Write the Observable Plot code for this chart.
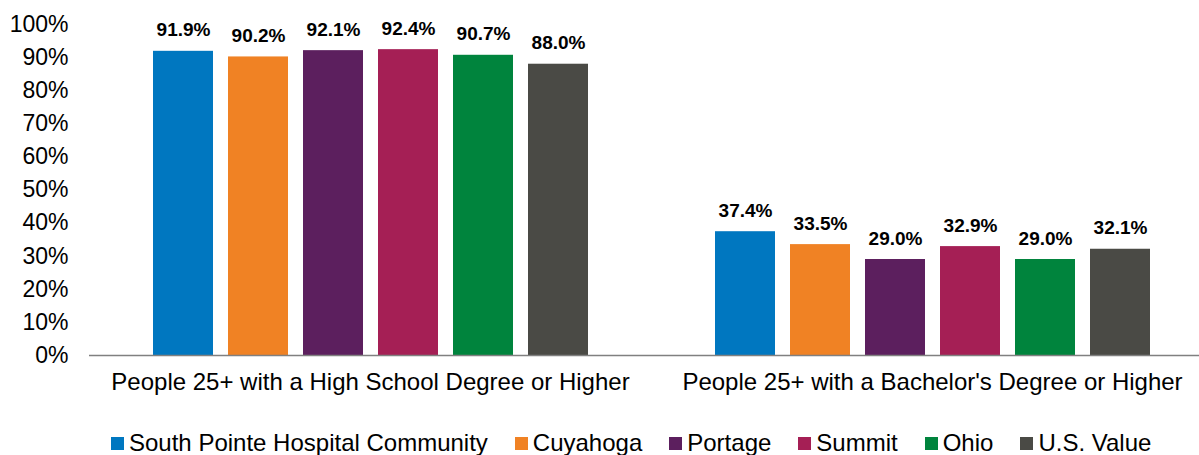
<!DOCTYPE html>
<html>
<head>
<meta charset="utf-8">
<script src="https://cdn.jsdelivr.net/npm/d3@7"></script>
<script src="https://cdn.jsdelivr.net/npm/@observablehq/plot@0.6"></script>
<style>
  html, body { margin: 0; padding: 0; background: #fff; }
  body { width: 1199px; height: 455px; overflow: hidden; font-family: "Liberation Sans", Arial, sans-serif; }
  #chart svg { display: block; }
  #legend { display: flex; justify-content: flex-start; padding-left: 111px; font-size: 24px; color: #000; margin-top: 26px; line-height: 24px; white-space: nowrap; }
  .item { display: flex; align-items: center; margin-right: 27px; }
  .sw { width: 13px; height: 13px; margin-right: 5px; }
</style>
</head>
<body>
<div id="chart"></div>
<div id="legend"></div>
<script>
const categories = ["People 25+ with a High School Degree or Higher", "People 25+ with a Bachelor's Degree or Higher"];
const series = ["South Pointe Hospital Community", "Cuyahoga", "Portage", "Summit", "Ohio", "U.S. Value"];
const colors = ["#0077C0", "#F08224", "#5C1F5E", "#A51F55", "#00843D", "#4A4A45"];
const highSchool = [91.9, 90.2, 92.1, 92.4, 90.7, 88.0];
const bachelor = [37.4, 33.5, 29.0, 32.9, 29.0, 32.1];
const yTicks = [0, 10, 20, 30, 40, 50, 60, 70, 80, 90, 100];

const data = [];
series.forEach((s, i) => {
  data.push({cat: categories[0], series: s, value: highSchool[i]});
  data.push({cat: categories[1], series: s, value: bachelor[i]});
});

const chart = Plot.plot({
  width: 1199,
  height: 405,
  marginLeft: 89,
  marginRight: 0,
  marginTop: 24,
  marginBottom: 50,
  style: {fontFamily: "'Liberation Sans', Arial, sans-serif", fontSize: "20px", color: "#000", background: "#fff"},
  fx: {domain: categories, range: [89, 1213], padding: 0, label: null},
  x: {domain: series, paddingInner: 0.2, paddingOuter: 0.8, axis: null},
  y: {domain: [0, 100], label: null},
  color: {domain: series, range: colors},
  marks: [
    Plot.barY(data, {fx: "cat", x: "series", y: "value", fill: "series"}),
    Plot.text(data, {fx: "cat", x: "series", y: "value", text: d => d.value.toFixed(1) + "%", dy: -21, fontWeight: "bold", fontSize: 19, fill: "#000"}),
    Plot.ruleY([0], {stroke: "#808080", strokeWidth: 1.5}),
    Plot.axisFx({anchor: "bottom", tickSize: 0, tickPadding: 17, fontSize: 24, label: null}),
    Plot.axisY({ticks: yTicks, tickFormat: d => d + "%", tickSize: 0, tickPadding: 21, fontSize: 23, label: null, fx: categories[0], anchor: "left"}),
    Plot.ruleX([0], {fx: categories[0], frameAnchor: "left", stroke: "#808080", strokeWidth: 1.5})
  ]
});
document.getElementById("chart").appendChild(chart);

const legend = document.getElementById("legend");
series.forEach((s, i) => {
  const it = document.createElement("div");
  it.className = "item";
  it.innerHTML = `<span class="sw" style="background:${colors[i]}"></span><span>${s}</span>`;
  legend.appendChild(it);
});
</script>
</body>
</html>
